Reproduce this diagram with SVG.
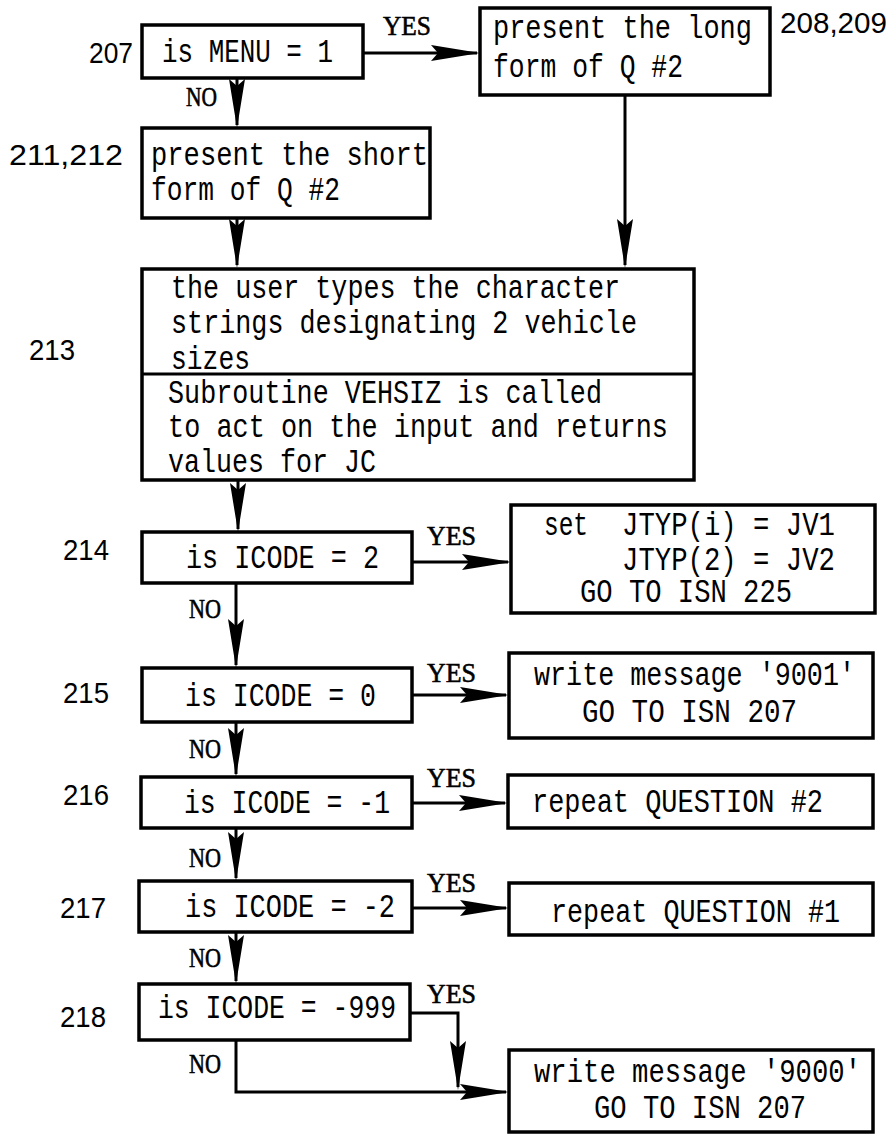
<svg xmlns="http://www.w3.org/2000/svg" width="895" height="1135" viewBox="0 0 895 1135">
<defs>
<style>
.box{fill:#fff;stroke:#000;stroke-width:3.5}
.ln{fill:none;stroke:#000;stroke-width:3}
.t{font-family:"Liberation Mono","DejaVu Sans Mono",monospace;font-size:26px;fill:#000}
.lb{font-family:"Liberation Sans","DejaVu Sans",sans-serif;font-size:29px;fill:#000}
.yn{font-family:"Liberation Serif","DejaVu Serif",serif;font-size:27px;fill:#000;stroke:#000;stroke-width:0.6}
</style>
<marker id="ah" markerUnits="userSpaceOnUse" markerWidth="50" markerHeight="18" viewBox="0 0 50 18" refX="46" refY="8" orient="auto">
<path d="M0,0 L49,8 L0,16 L7,8 Z" fill="#000"/>
</marker>
</defs>
<rect width="895" height="1135" fill="#fff"/>

<g id="connectors">
<path class="ln" d="M363,53 H477" marker-end="url(#ah)"/>
<text class="yn" x="383" y="35" textLength="48" lengthAdjust="spacingAndGlyphs">YES</text>
<path class="ln" d="M237,78 V125" marker-end="url(#ah)"/>
<text class="yn" x="186" y="106" textLength="31" lengthAdjust="spacingAndGlyphs">NO</text>
<path class="ln" d="M237,218 V265" marker-end="url(#ah)"/>
<path class="ln" d="M625,95 V265" marker-end="url(#ah)"/>
<path class="ln" d="M238,480 V529" marker-end="url(#ah)"/>
<path class="ln" d="M412,562 H508" marker-end="url(#ah)"/>
<text class="yn" x="427" y="545" textLength="49" lengthAdjust="spacingAndGlyphs">YES</text>
<path class="ln" d="M236,583 V665" marker-end="url(#ah)"/>
<text class="yn" x="189" y="618" textLength="32" lengthAdjust="spacingAndGlyphs">NO</text>
<path class="ln" d="M412,695 H506" marker-end="url(#ah)"/>
<text class="yn" x="427" y="682" textLength="49" lengthAdjust="spacingAndGlyphs">YES</text>
<path class="ln" d="M236,722 V774" marker-end="url(#ah)"/>
<text class="yn" x="189" y="758" textLength="32" lengthAdjust="spacingAndGlyphs">NO</text>
<path class="ln" d="M412,803 H505" marker-end="url(#ah)"/>
<text class="yn" x="427" y="787" textLength="49" lengthAdjust="spacingAndGlyphs">YES</text>
<path class="ln" d="M236,828 V878" marker-end="url(#ah)"/>
<text class="yn" x="189" y="867" textLength="32" lengthAdjust="spacingAndGlyphs">NO</text>
<path class="ln" d="M412,908 H506" marker-end="url(#ah)"/>
<text class="yn" x="427" y="892" textLength="49" lengthAdjust="spacingAndGlyphs">YES</text>
<path class="ln" d="M236,932 V981" marker-end="url(#ah)"/>
<text class="yn" x="189" y="967" textLength="32" lengthAdjust="spacingAndGlyphs">NO</text>
<path class="ln" d="M410,1013 H458 V1087" marker-end="url(#ah)"/>
<text class="yn" x="427" y="1003" textLength="49" lengthAdjust="spacingAndGlyphs">YES</text>
<path class="ln" d="M236,1040 V1092 H506" marker-end="url(#ah)"/>
<text class="yn" x="189" y="1073" textLength="32" lengthAdjust="spacingAndGlyphs">NO</text>
</g>

<g id="n207">
<rect class="box" x="142" y="25" width="221" height="53"/>
<text class="lb" x="89" y="63" textLength="44" lengthAdjust="spacingAndGlyphs">207</text>
<text class="t" transform="translate(162,62) scale(1,1.25)" textLength="171" lengthAdjust="spacingAndGlyphs">is MENU = 1</text>
</g>

<g id="n208">
<rect class="box" x="480" y="8" width="290" height="87"/>
<text class="lb" x="780" y="33" textLength="107" lengthAdjust="spacingAndGlyphs">208,209</text>
<text class="t" transform="translate(493,38) scale(1,1.25)" textLength="259" lengthAdjust="spacingAndGlyphs">present the long</text>
<text class="t" transform="translate(493,77) scale(1,1.25)" textLength="190" lengthAdjust="spacingAndGlyphs">form of Q #2</text>
</g>

<g id="n211">
<rect class="box" x="142" y="128" width="288" height="90"/>
<text class="lb" x="9" y="165" textLength="114" lengthAdjust="spacingAndGlyphs">211,212</text>
<text class="t" transform="translate(151,165) scale(1,1.25)" textLength="277" lengthAdjust="spacingAndGlyphs">present the short</text>
<text class="t" transform="translate(151,200) scale(1,1.25)" textLength="189" lengthAdjust="spacingAndGlyphs">form of Q #2</text>
</g>

<g id="n213">
<rect class="box" x="142" y="269" width="552" height="211"/>
<line class="ln" x1="142" y1="374" x2="694" y2="374"/>
<text class="lb" x="29" y="360" textLength="46" lengthAdjust="spacingAndGlyphs">213</text>
<text class="t" transform="translate(171,298) scale(1,1.25)" textLength="449" lengthAdjust="spacingAndGlyphs">the user types the character</text>
<text class="t" transform="translate(171,333) scale(1,1.25)" textLength="466" lengthAdjust="spacingAndGlyphs">strings designating 2 vehicle</text>
<text class="t" transform="translate(171,369) scale(1,1.25)" textLength="79" lengthAdjust="spacingAndGlyphs">sizes</text>
<text class="t" transform="translate(168,403) scale(1,1.25)" textLength="434" lengthAdjust="spacingAndGlyphs">Subroutine VEHSIZ is called</text>
<text class="t" transform="translate(168,437) scale(1,1.25)" textLength="500" lengthAdjust="spacingAndGlyphs">to act on the input and returns</text>
<text class="t" transform="translate(168,472) scale(1,1.25)" textLength="208" lengthAdjust="spacingAndGlyphs">values for JC</text>
</g>

<g id="n214">
<rect class="box" x="142" y="532" width="270" height="51"/>
<text class="lb" x="63" y="560" textLength="46" lengthAdjust="spacingAndGlyphs">214</text>
<text class="t" transform="translate(186,568) scale(1,1.25)" textLength="193" lengthAdjust="spacingAndGlyphs">is ICODE = 2</text>
</g>

<g id="n214yes">
<rect class="box" x="511" y="505" width="364" height="108"/>
<text class="t" transform="translate(544,535) scale(1,1.25)" textLength="44" lengthAdjust="spacingAndGlyphs">set</text>
<text class="t" transform="translate(622,535) scale(1,1.25)" textLength="213" lengthAdjust="spacingAndGlyphs">JTYP(i) = JV1</text>
<text class="t" transform="translate(622,570) scale(1,1.25)" textLength="213" lengthAdjust="spacingAndGlyphs">JTYP(2) = JV2</text>
<text class="t" transform="translate(580,602) scale(1,1.25)" textLength="212" lengthAdjust="spacingAndGlyphs">GO TO ISN 225</text>
</g>

<g id="n215">
<rect class="box" x="142" y="668" width="270" height="54"/>
<text class="lb" x="63" y="703" textLength="46" lengthAdjust="spacingAndGlyphs">215</text>
<text class="t" transform="translate(185,706) scale(1,1.25)" textLength="191" lengthAdjust="spacingAndGlyphs">is ICODE = 0</text>
</g>

<g id="n215yes">
<rect class="box" x="509" y="653" width="364" height="85"/>
<text class="t" transform="translate(534,685) scale(1,1.25)" textLength="321" lengthAdjust="spacingAndGlyphs">write message '9001'</text>
<text class="t" transform="translate(582,722) scale(1,1.25)" textLength="215" lengthAdjust="spacingAndGlyphs">GO TO ISN 207</text>
</g>

<g id="n216">
<rect class="box" x="141" y="777" width="271" height="51"/>
<text class="lb" x="63" y="805" textLength="46" lengthAdjust="spacingAndGlyphs">216</text>
<text class="t" transform="translate(184,813) scale(1,1.25)" textLength="206" lengthAdjust="spacingAndGlyphs">is ICODE = -1</text>
</g>

<g id="n216yes">
<rect class="box" x="508" y="775" width="365" height="53"/>
<text class="t" transform="translate(532,812) scale(1,1.25)" textLength="291" lengthAdjust="spacingAndGlyphs">repeat QUESTION #2</text>
</g>

<g id="n217">
<rect class="box" x="139" y="881" width="273" height="51"/>
<text class="lb" x="60" y="918" textLength="46" lengthAdjust="spacingAndGlyphs">217</text>
<text class="t" transform="translate(185,917) scale(1,1.25)" textLength="210" lengthAdjust="spacingAndGlyphs">is ICODE = -2</text>
</g>

<g id="n217yes">
<rect class="box" x="509" y="883" width="364" height="52"/>
<text class="t" transform="translate(551,922) scale(1,1.25)" textLength="289" lengthAdjust="spacingAndGlyphs">repeat QUESTION #1</text>
</g>

<g id="n218">
<rect class="box" x="139" y="984" width="271" height="56"/>
<text class="lb" x="60" y="1027" textLength="46" lengthAdjust="spacingAndGlyphs">218</text>
<text class="t" transform="translate(158,1018) scale(1,1.25)" textLength="238" lengthAdjust="spacingAndGlyphs">is ICODE = -999</text>
</g>

<g id="n218yes">
<rect class="box" x="509" y="1050" width="364" height="82"/>
<text class="t" transform="translate(534,1082) scale(1,1.25)" textLength="327" lengthAdjust="spacingAndGlyphs">write message '9000'</text>
<text class="t" transform="translate(594,1118) scale(1,1.25)" textLength="212" lengthAdjust="spacingAndGlyphs">GO TO ISN 207</text>
</g>
</svg>
